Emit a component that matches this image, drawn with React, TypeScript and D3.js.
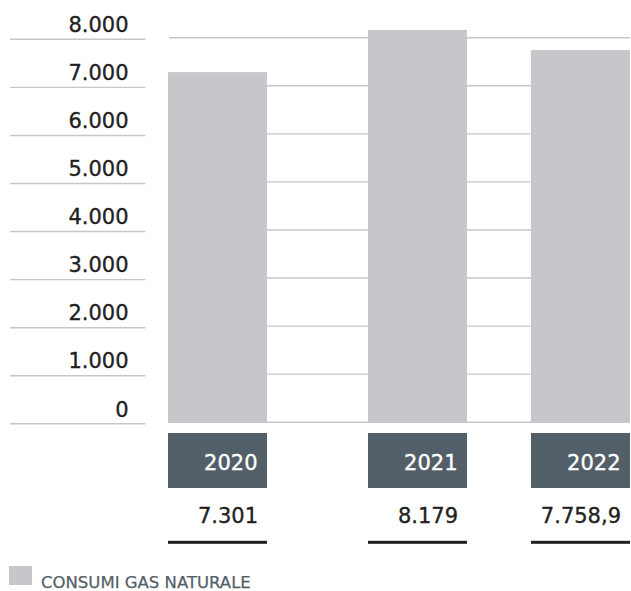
import React from "react";
import * as d3 from "d3";

const years = ["2020", "2021", "2022"];
const values = [7301, 8179, 7758.9];
const valueLabels = ["7.301", "8.179", "7.758,9"];
const yTicks = [0, 1000, 2000, 3000, 4000, 5000, 6000, 7000, 8000];
const legendLabel = "CONSUMI GAS NATURALE";

const W = 631;
const H = 591;
const FONT = "'DejaVu Sans', sans-serif";
const BAR_COLOR = "#c6c7cb";
const GRID_COLOR = "#c6c7ca";
const DARK = "#231f20";
const SLATE = "#535f68";

export default function App() {
  const y = d3.scaleLinear().domain([0, 8000]).range([423, 38.5]);
  // bar left edges (layout of the original, uneven spacing)
  const x = d3.scaleOrdinal<string, number>().domain(years).range([168, 368, 531]);
  const barW = 99;
  const fmtTick = d3.formatLocale({ decimal: ",", thousands: ".", grouping: [3], currency: ["€", ""] }).format(",d");

  return (
    <svg
      width={W}
      height={H}
      style={{ position: "absolute", left: 0, top: 0, background: "#fff" }}
      fontFamily={FONT}
    >
      {/* right gridlines */}
      {yTicks.map((t) => (
        <line key={"g" + t} x1={169} x2={630} y1={y(t) - 0.8} y2={y(t) - 0.8} stroke={GRID_COLOR} strokeWidth={1.4} />
      ))}
      {/* left gridlines + labels */}
      {yTicks.map((t) => (
        <g key={"l" + t}>
          <line x1={10} x2={145.5} y1={y(t) + 0.8} y2={y(t) + 0.8} stroke={GRID_COLOR} strokeWidth={1.4} />
          <text x={128.5} y={y(t) - 6.5} textAnchor="end" fontSize={21} fill={DARK} stroke={DARK} strokeWidth={0.35}>
            {fmtTick(t)}
          </text>
        </g>
      ))}
      {/* bars */}
      {years.map((yr, i) => (
        <rect key={"b" + yr} x={x(yr)} y={y(values[i])} width={barW} height={y(0) - y(values[i])} fill={BAR_COLOR} />
      ))}
      {/* year boxes */}
      {years.map((yr) => (
        <g key={"y" + yr}>
          <rect x={x(yr)} y={433} width={barW} height={55} fill={SLATE} />
          <text x={x(yr) + barW - 9.5} y={469.5} textAnchor="end" fontSize={21} fill="#fff" stroke="#fff" strokeWidth={0.35}>
            {yr}
          </text>
        </g>
      ))}
      {/* value labels */}
      {years.map((yr, i) => (
        <g key={"v" + yr}>
          <text x={x(yr) + barW - 9} y={522.5} textAnchor="end" fontSize={21} fill={DARK} stroke={DARK} strokeWidth={0.35}>
            {valueLabels[i]}
          </text>
          <rect x={x(yr)} y={540.8} width={barW} height={3} fill={DARK} />
        </g>
      ))}
      {/* legend */}
      <rect x={9} y={566} width={23} height={19} fill={BAR_COLOR} />
      <text x={41} y={587.5} fontSize={16.5} fill={SLATE} stroke={SLATE} strokeWidth={0.25}>
        {legendLabel}
      </text>
    </svg>
  );
}
